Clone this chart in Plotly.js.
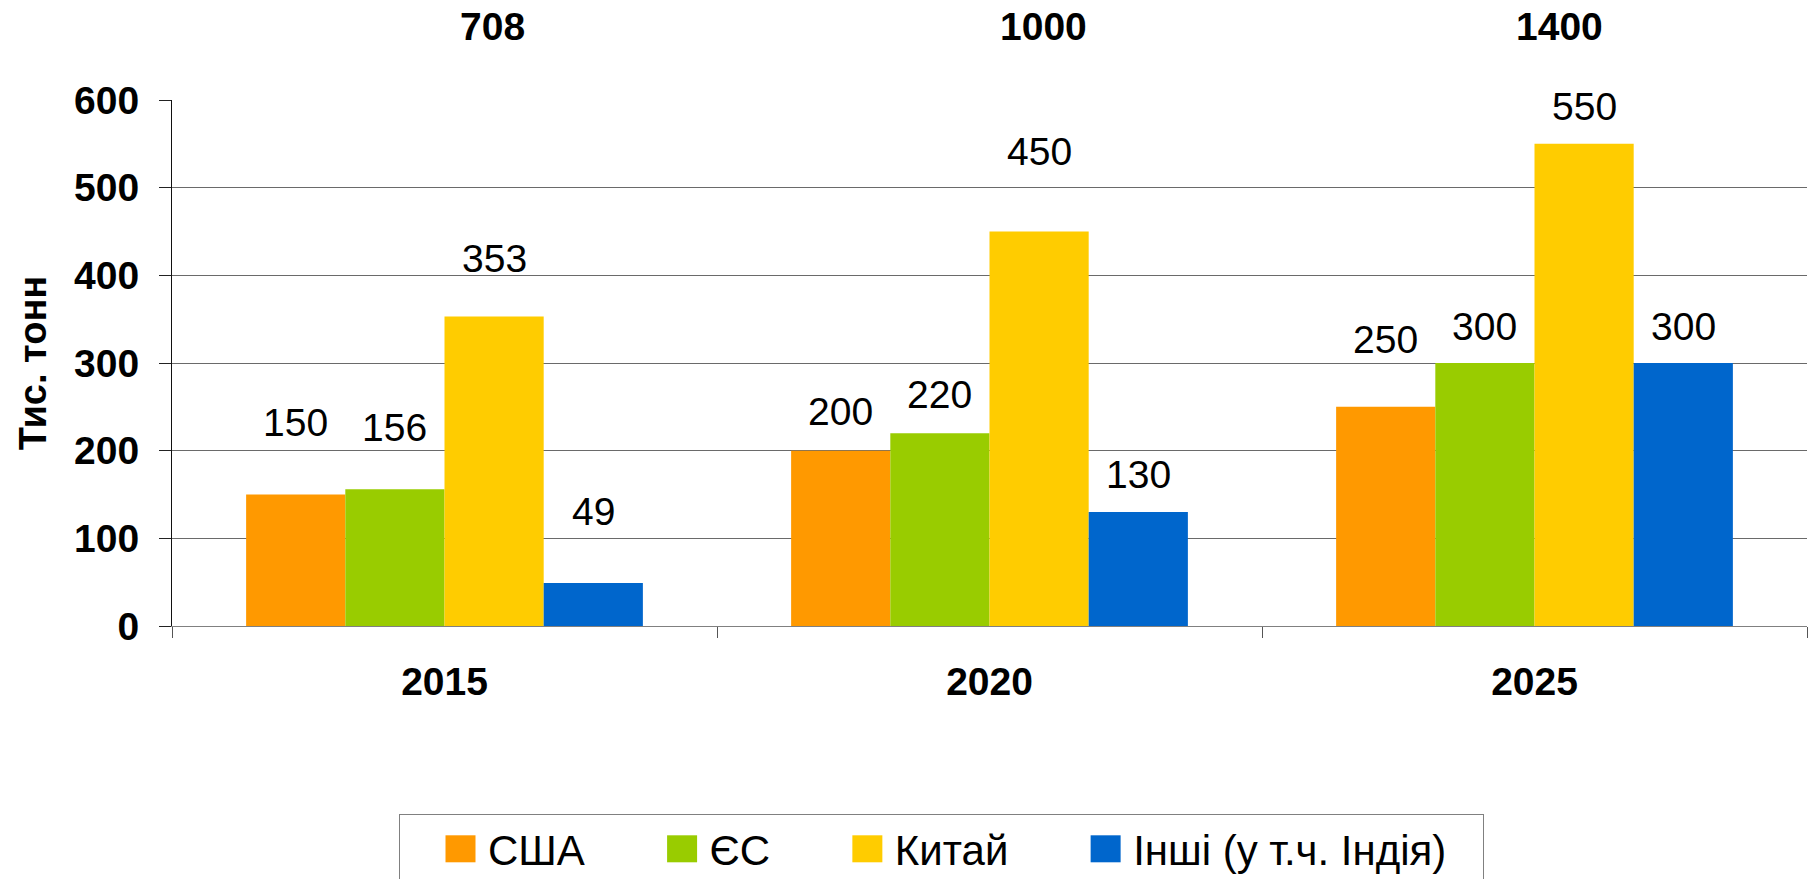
<!DOCTYPE html>
<html><head><meta charset="utf-8">
<script src="https://cdn.plot.ly/plotly-3.0.1.min.js"></script>
<style>html,body{margin:0;padding:0;background:#fff;}</style>
</head><body>
<div id="chart" style="width:1808px;height:879px;"></div>
<script>
const years = ['2015', '2020', '2025'];
const seriesNames = ['США', 'ЄС', 'Китай', 'Інші (у т.ч. Індія)'];
const usa = [150, 200, 250];
const eu = [156, 220, 300];
const china = [353, 450, 550];
const others = [49, 130, 300];
const totals = [708, 1000, 1400];
const yTicks = [0, 100, 200, 300, 400, 500, 600];

const seriesValues = [usa, eu, china, others];
const colors = ['#FF9900', '#99CC00', '#FFCC00', '#0066CC'];
// label placement (px above bar top), as placed in the original
const labelShift = [[72, 39, 67], [62, 39, 37], [58, 80, 37], [72, 38, 37]];
const totalShift = [48, 54, 25];

const FONT = 'Liberation Sans, Arial, sans-serif';
const bargap = 0.272;
const barFrac = (1 - bargap) / seriesNames.length;
const legendPad = '\u00a0\u00a0\u2009';

const traces = seriesValues.map((vals, i) => ({
  type: 'bar',
  x: years,
  y: vals,
  name: seriesNames[i] + legendPad,
  marker: {color: colors[i], line: {width: 0}},
  hoverinfo: 'x+y+name'
}));

const annotations = [];
seriesValues.forEach((vals, i) => {
  vals.forEach((v, c) => {
    annotations.push({
      x: c + (i - (seriesNames.length - 1) / 2) * barFrac,
      y: v, xref: 'x', yref: 'y',
      text: String(v), showarrow: false,
      yanchor: 'middle', yshift: labelShift[i][c],
      font: {family: FONT, size: 39, color: '#000'}
    });
  });
});
totals.forEach((t, c) => {
  annotations.push({
    x: c, xref: 'x', xshift: totalShift[c],
    y: 1 + 74 / 526, yref: 'paper', yanchor: 'middle',
    text: String(t), showarrow: false,
    font: {family: FONT, size: 39, color: '#000', weight: 'bold'}
  });
});

const layout = {
  width: 1808, height: 879,
  margin: {l: 172, r: 1, t: 100, b: 253, pad: 0},
  paper_bgcolor: '#fff', plot_bgcolor: '#fff',
  barmode: 'group', bargap: bargap, bargroupgap: 0,
  font: {family: FONT, color: '#000'},
  xaxis: {
    type: 'category', range: [-0.5, 2.5],
    tickson: 'boundaries', ticks: 'outside', ticklen: 11, tickcolor: '#555', tickwidth: 1,
    showline: true, linecolor: '#808080', linewidth: 1,
    showgrid: false, zeroline: false,
    tickfont: {family: FONT, size: 39, color: '#000', weight: 'bold'},
    ticklabelstandoff: 21
  },
  yaxis: {
    range: [0, 600], tickvals: yTicks, ticktext: yTicks.map(String),
    ticks: 'outside', ticklen: 12, tickcolor: '#222', tickwidth: 1,
    showline: true, linecolor: '#111', linewidth: 1,
    showgrid: true, gridcolor: '#6a6a6a', gridwidth: 1, zeroline: false,
    tickfont: {family: FONT, size: 39, color: '#000', weight: 'bold'},
    ticklabelstandoff: 12,
    title: {text: 'Тис. тонн', font: {family: FONT, size: 38, color: '#000', weight: 'bold'}, standoff: 15}
  },
  legend: {
    orientation: 'h', xref: 'container', yref: 'container',
    x: 399 / 1808, xanchor: 'left', y: 1 - 814 / 879, yanchor: 'top',
    bordercolor: '#808080', borderwidth: 1, bgcolor: '#fff',
    font: {family: FONT, size: 42, color: '#000'},
    itemwidth: 78, traceorder: 'normal'
  },
  annotations: annotations,
  showlegend: true
};

Plotly.newPlot('chart', traces, layout, {displayModeBar: false, staticPlot: true}).then(gd => {
  gd.querySelectorAll('.legend .legendpoints path').forEach(p => {
    const t = p.getAttribute('transform') || '';
    p.setAttribute('transform', t + ' translate(16.5,0) scale(2.5,2.25)');
  });
});
</script>
</body></html>
